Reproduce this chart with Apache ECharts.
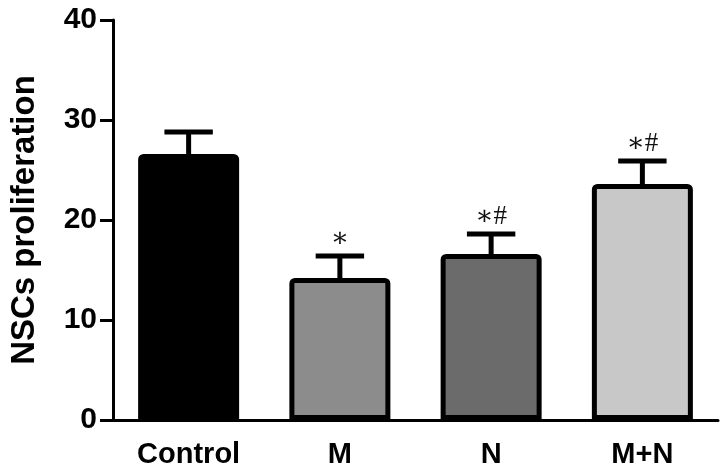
<!DOCTYPE html>
<html>
<head>
<meta charset="utf-8">
<script src="https://cdn.jsdelivr.net/npm/echarts@6/dist/echarts.min.js"></script>
<style>html,body{margin:0;padding:0;background:#fff}#c{width:724px;height:472px}</style>
</head>
<body>
<div id="c"></div>
<script>
const categories = ['Control', 'M', 'N', 'M+N'];
const means = [26.6, 14.2, 16.6, 23.6];
const upper = [28.8, 16.4, 18.6, 25.9];
const marks = ['', '∗', '∗#', '∗#'];
const barColors = ['#000000', '#8c8c8c', '#6b6b6b', '#c8c8c8'];
const yTicks = [0, 10, 20, 30, 40];

const chart = echarts.init(document.getElementById('c'), null, {renderer: 'canvas'});
const font = '"Liberation Sans", Arial, sans-serif';

chart.setOption({
  animation: false,
  backgroundColor: '#ffffff',
  grid: {left: 113, right: 6, top: 20, bottom: 52, containLabel: false},
  xAxis: {
    type: 'category',
    data: categories,
    axisLine: {lineStyle: {color: '#000', width: 3}},
    axisTick: {alignWithLabel: true, length: 13, lineStyle: {color: '#000', width: 3}},
    axisLabel: {color: '#000', fontSize: 29, fontWeight: 'bold', fontFamily: font, margin: 20}
  },
  yAxis: {
    type: 'value',
    min: yTicks[0], max: yTicks[yTicks.length - 1], interval: 10,
    name: 'NSCs proliferation',
    nameLocation: 'middle',
    nameRotate: 90,
    nameGap: 72,
    nameTextStyle: {color: '#000', fontSize: 33, fontWeight: 'bold', fontFamily: font},
    axisLine: {show: true, lineStyle: {color: '#000', width: 3}},
    axisTick: {show: true, length: 13, lineStyle: {color: '#000', width: 3}},
    splitLine: {show: false},
    axisLabel: {color: '#000', fontSize: 30, fontWeight: 'bold', fontFamily: font, margin: 16}
  },
  series: [
    {
      type: 'bar',
      barWidth: 101,
      data: means.map((v, i) => ({
        value: v,
        itemStyle: {color: barColors[i], borderColor: '#000', borderWidth: 5, borderRadius: [3, 3, 0, 0]}
      })),
      z: 2
    },
    {
      type: 'custom',
      z: 3,
      data: categories.map((c, i) => [i, means[i], upper[i]]),
      renderItem: function (params, api) {
        const i = api.value(0);
        const base = api.coord([i, api.value(1)]);
        const top = api.coord([i, api.value(2)]);
        const half = api.size([1, 0])[0] * 0.16;
        const children = [
          {type: 'line', shape: {x1: top[0], y1: base[1], x2: top[0], y2: top[1]}, style: {stroke: '#000', lineWidth: 5}},
          {type: 'line', shape: {x1: top[0] - half, y1: top[1], x2: top[0] + half, y2: top[1]}, style: {stroke: '#000', lineWidth: 5}}
        ];
        const m = marks[params.dataIndex];
        if (m) {
          children.push({
            type: 'text',
            style: {
              text: m, x: top[0], y: top[1] - 17,
              fill: '#111', font: 'normal 27px "Liberation Serif", "DejaVu Serif", serif',
              textAlign: 'center', textVerticalAlign: 'middle'
            }
          });
        }
        return {type: 'group', children: children};
      }
    }
  ]
});
</script>
</body>
</html>
